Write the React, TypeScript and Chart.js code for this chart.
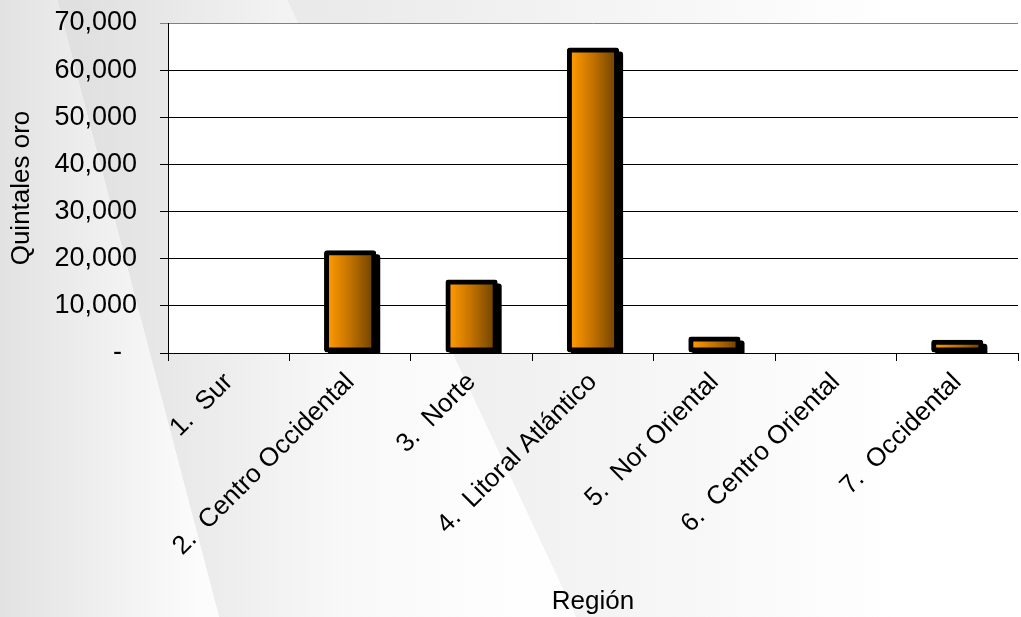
import React, { useEffect, useRef } from 'react';
import { Chart, registerables } from 'chart.js';

Chart.register(...registerables);

const categories = [
  '1.  Sur',
  '2.  Centro Occidental',
  '3.  Norte',
  '4.  Litoral Atlántico',
  '5.  Nor Oriental',
  '6.  Centro Oriental',
  '7.  Occidental',
];
const values = [0, 21800, 15600, 64800, 3500, 0, 2800];
const yMin = 0;
const yMax = 70000;
const yStep = 10000;
const yTitle = 'Quintales oro';
const xTitle = 'Región';

const BAR_PCT = 0.43;
const FONT = "'Liberation Sans', Arial, sans-serif";
const FS = 26;

const bgPlugin = {
  id: 'bgPlugin',
  beforeDraw(chart: any) {
    const { ctx, width, height, chartArea } = chart;
    ctx.save();
    ctx.fillStyle = '#ffffff';
    ctx.fillRect(0, 0, width, height);
    const slope1 = (219 - 57) / 617;
    const slope2 = (576 - 287) / 617;
    const e1 = (y: number) => 57 + slope1 * y;
    const e2 = (y: number) => 287 + slope2 * y;
    let g = ctx.createLinearGradient(330, 0, 900, 0);
    g.addColorStop(0, '#eaeaea');
    g.addColorStop(1, '#ffffff');
    ctx.fillStyle = g;
    ctx.beginPath();
    ctx.moveTo(e2(0), 0);
    ctx.lineTo(width, 0);
    ctx.lineTo(width, height);
    ctx.lineTo(e2(height), height);
    ctx.closePath();
    ctx.fill();
    g = ctx.createLinearGradient(80, 0, 520, 0);
    g.addColorStop(0, '#e0e0e0');
    g.addColorStop(0.6, '#f8f8f8');
    g.addColorStop(1, '#fefefe');
    ctx.fillStyle = g;
    ctx.beginPath();
    ctx.moveTo(e1(0), 0);
    ctx.lineTo(e2(0), 0);
    ctx.lineTo(e2(height), height);
    ctx.lineTo(e1(height), height);
    ctx.closePath();
    ctx.fill();
    g = ctx.createLinearGradient(0, 0, 200, 0);
    g.addColorStop(0, '#e2e2e2');
    g.addColorStop(1, '#fcfcfc');
    ctx.fillStyle = g;
    ctx.beginPath();
    ctx.moveTo(0, 0);
    ctx.lineTo(e1(0), 0);
    ctx.lineTo(e1(height), height);
    ctx.lineTo(0, height);
    ctx.closePath();
    ctx.fill();
    if (chartArea) {
      ctx.fillStyle = '#ffffff';
      ctx.fillRect(chartArea.left, chartArea.top, chartArea.right - chartArea.left, chartArea.bottom - chartArea.top);
    }
    ctx.restore();
  },
  beforeDatasetsDraw(chart: any) {
    const { ctx, chartArea } = chart;
    const meta = chart.getDatasetMeta(0);
    ctx.save();
    ctx.beginPath();
    ctx.rect(chartArea.left, chartArea.top, chartArea.right - chartArea.left, chartArea.bottom - chartArea.top);
    ctx.clip();
    ctx.fillStyle = '#000000';
    meta.data.forEach((el: any, i: number) => {
      if (!values[i]) return;
      const p = el.getProps(['x', 'y', 'base', 'width'], true);
      const off = 4;
      const left = p.x - p.width / 2 + off;
      const top = Math.min(p.y, p.base) + off;
      const bottom = Math.max(p.y, p.base) + off;
      ctx.beginPath();
      if ((ctx as any).roundRect) {
        (ctx as any).roundRect(left, top, p.width, bottom - top, 3);
      } else {
        ctx.rect(left, top, p.width, bottom - top);
      }
      ctx.fill();
    });
    ctx.restore();
  },
};

export default function App() {
  const ref = useRef<HTMLCanvasElement | null>(null);

  useEffect(() => {
    if (!ref.current) return;
    const chart = new Chart(ref.current, {
      type: 'bar',
      data: {
        labels: categories,
        datasets: [
          {
            data: values,
            borderColor: '#000000',
            borderWidth: 5,
            borderSkipped: false,
            borderRadius: 3,
            clip: 0,
            barPercentage: BAR_PCT,
            categoryPercentage: 1,
            backgroundColor: (c: any) => {
              const chart = c.chart;
              const xs = chart.scales && chart.scales.x;
              if (!xs || c.dataIndex === undefined) return '#ff9900';
              const cx = xs.getPixelForValue(c.dataIndex);
              const w = (xs.width / categories.length) * BAR_PCT;
              const x0 = cx - w / 2 + 4;
              const x1 = cx + w / 2 - 4;
              if (!isFinite(x0) || !isFinite(x1) || x1 <= x0) return '#ff9900';
              const g = chart.ctx.createLinearGradient(x0, 0, x1, 0);
              g.addColorStop(0, '#ff9a00');
              g.addColorStop(0.5, '#c27200');
              g.addColorStop(1, '#734500');
              return g;
            },
          },
        ],
      },
      options: {
        animation: false,
        responsive: true,
        maintainAspectRatio: false,
        layout: { padding: { top: 23, right: 3, left: 0, bottom: 0 } },
        plugins: {
          legend: { display: false },
          tooltip: { enabled: false },
        },
        scales: {
          x: {
            offset: true,
            border: { display: true, color: '#000000', width: 1 },
            grid: {
              offset: true,
              drawOnChartArea: false,
              drawTicks: true,
              tickLength: 8,
              color: '#000000',
            },
            ticks: {
              autoSkip: false,
              maxRotation: 45,
              minRotation: 45,
              padding: 6,
              color: '#000000',
              font: { family: FONT, size: FS },
            },
            title: {
              display: true,
              text: xTitle,
              color: '#000000',
              font: { family: FONT, size: FS },
              padding: { top: 0, bottom: 0 },
            },
            afterFit: (s: any) => {
              s.height = 264;
              s.paddingLeft = 0;
              s.paddingRight = 0;
            },
          },
          y: {
            min: yMin,
            max: yMax,
            border: { display: true, color: '#000000', width: 1 },
            grid: {
              color: (c: any) => (c.tick && c.tick.value === yMax ? '#808080' : '#000000'),
              tickLength: 8,
              drawTicks: true,
            },
            ticks: {
              stepSize: yStep,
              padding: 23,
              color: '#000000',
              font: { family: FONT, size: 27 },
              callback: (v: any) => (Number(v) === 0 ? '-  ' : Number(v).toLocaleString('en-US')),
            },
            title: {
              display: true,
              text: yTitle,
              color: '#000000',
              font: { family: FONT, size: FS },
              padding: { top: 6, bottom: 0 },
            },
            afterFit: (s: any) => {
              s.width = 168;
              s.paddingTop = 0;
              s.paddingBottom = 0;
            },
          },
        },
      },
      plugins: [bgPlugin],
    });
    return () => chart.destroy();
  }, []);

  return (
    <div style={{ position: 'fixed', left: 0, top: 0, width: 1021, height: 617 }}>
      <canvas ref={ref} />
    </div>
  );
}
